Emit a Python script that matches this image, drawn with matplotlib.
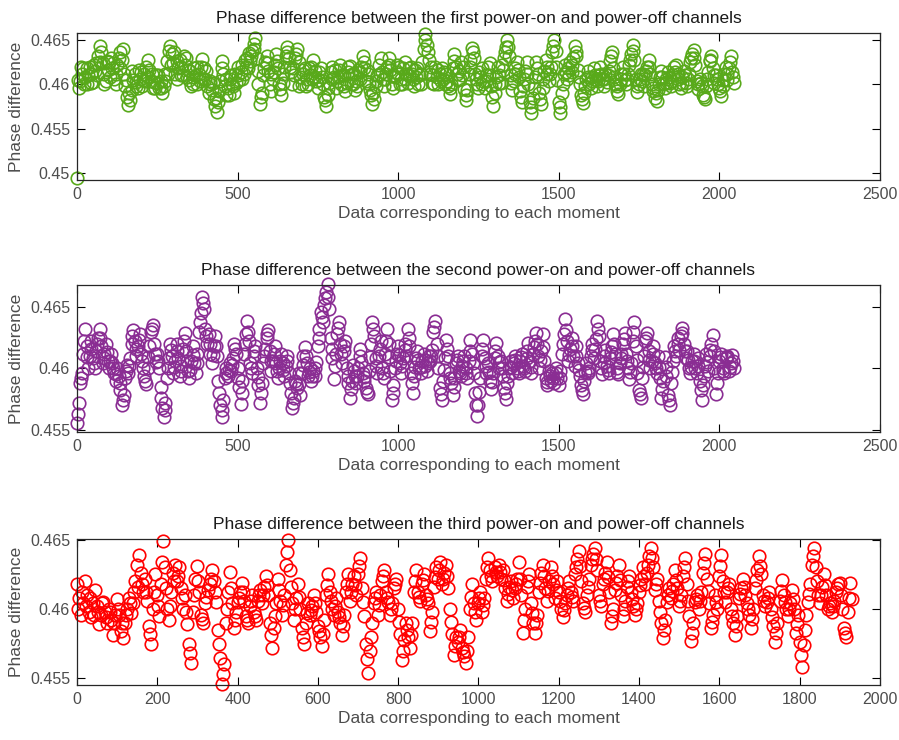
import numpy as np
import matplotlib
matplotlib.use("Agg")
import matplotlib.pyplot as plt

plt.rcParams['font.family'] = ['Liberation Sans', 'DejaVu Sans']

# Values, one every 5 samples (rows of 100 samples)
first_vals = [
    0.4494, 0.4596, 0.4604, 0.4612, 0.4618, 0.4608, 0.4600, 0.4610, 0.4620, 0.4612, 0.4603, 0.4615, 0.4624, 0.4632, 0.4643, 0.4636, 0.4624, 0.4612, 0.4604, 0.4616,
    0.4625, 0.4630, 0.4618, 0.4606, 0.4612, 0.4622, 0.4630, 0.4637, 0.4628, 0.4612, 0.4598, 0.4586, 0.4577, 0.4582, 0.4594, 0.4605, 0.4612, 0.4603, 0.4596, 0.4606,
    0.4614, 0.4605, 0.4612, 0.4620, 0.4627, 0.4616, 0.4604, 0.4596, 0.4603, 0.4610, 0.4602, 0.4596, 0.4604, 0.4590, 0.4598, 0.4612, 0.4626, 0.4638, 0.4643, 0.4634,
    0.4624, 0.4612, 0.4606, 0.4618, 0.4628, 0.4620, 0.4610, 0.4622, 0.4630, 0.4616, 0.4605, 0.4598, 0.4608, 0.4618, 0.4610, 0.4600, 0.4612, 0.4620, 0.4629, 0.4618,
    0.4606, 0.4598, 0.4590, 0.4600, 0.4594, 0.4584, 0.4576, 0.4569, 0.4580, 0.4604, 0.4626, 0.4612, 0.4598, 0.4588, 0.4596, 0.4606, 0.4610, 0.4598, 0.4590, 0.4602,
    0.4610, 0.4605, 0.4614, 0.4622, 0.4612, 0.4620, 0.4630, 0.4635, 0.4626, 0.4638, 0.4646, 0.4652, 0.4630, 0.4600, 0.4578, 0.4590, 0.4610, 0.4625, 0.4632, 0.4615,
    0.4600, 0.4592, 0.4606, 0.4622, 0.4634, 0.4618, 0.4600, 0.4588, 0.4602, 0.4620, 0.4632, 0.4642, 0.4630, 0.4614, 0.4600, 0.4610, 0.4630, 0.4640, 0.4625, 0.4608,
    0.4600, 0.4612, 0.4618, 0.4606, 0.4600, 0.4610, 0.4620, 0.4627, 0.4615, 0.4604, 0.4596, 0.4605, 0.4618, 0.4600, 0.4586, 0.4576, 0.4588, 0.4602, 0.4614, 0.4620,
    0.4608, 0.4596, 0.4604, 0.4616, 0.4622, 0.4610, 0.4598, 0.4592, 0.4602, 0.4614, 0.4621, 0.4612, 0.4600, 0.4594, 0.4604, 0.4616, 0.4606, 0.4620, 0.4632, 0.4618,
    0.4604, 0.4612, 0.4600, 0.4588, 0.4578, 0.4584, 0.4598, 0.4610, 0.4622, 0.4630, 0.4614, 0.4598, 0.4606, 0.4620, 0.4630, 0.4616, 0.4600, 0.4596, 0.4608, 0.4622,
    0.4612, 0.4600, 0.4606, 0.4618, 0.4625, 0.4612, 0.4602, 0.4610, 0.4620, 0.4606, 0.4598, 0.4608, 0.4618, 0.4610, 0.4600, 0.4625, 0.4640, 0.4657, 0.4645, 0.4628,
    0.4612, 0.4602, 0.4610, 0.4620, 0.4608, 0.4600, 0.4612, 0.4618, 0.4606, 0.4600, 0.4612, 0.4598, 0.4589, 0.4600, 0.4618, 0.4634, 0.4620, 0.4605, 0.4615, 0.4625,
    0.4610, 0.4595, 0.4582, 0.4594, 0.4612, 0.4628, 0.4641, 0.4630, 0.4612, 0.4600, 0.4596, 0.4608, 0.4618, 0.4604, 0.4596, 0.4610, 0.4620, 0.4624, 0.4598, 0.4575,
    0.4590, 0.4608, 0.4620, 0.4610, 0.4602, 0.4616, 0.4630, 0.4642, 0.4650, 0.4632, 0.4610, 0.4594, 0.4604, 0.4618, 0.4625, 0.4608, 0.4592, 0.4580, 0.4598, 0.4615,
    0.4625, 0.4600, 0.4580, 0.4568, 0.4585, 0.4608, 0.4625, 0.4612, 0.4590, 0.4578, 0.4596, 0.4615, 0.4628, 0.4612, 0.4604, 0.4620, 0.4636, 0.4650, 0.4638, 0.4605,
    0.4580, 0.4568, 0.4590, 0.4612, 0.4622, 0.4606, 0.4618, 0.4625, 0.4614, 0.4630, 0.4643, 0.4632, 0.4616, 0.4600, 0.4588, 0.4579, 0.4590, 0.4606, 0.4615, 0.4600,
    0.4596, 0.4608, 0.4618, 0.4605, 0.4598, 0.4610, 0.4620, 0.4606, 0.4598, 0.4612, 0.4603, 0.4615, 0.4626, 0.4637, 0.4618, 0.4600, 0.4592, 0.4589, 0.4600, 0.4612,
    0.4620, 0.4605, 0.4600, 0.4612, 0.4622, 0.4634, 0.4645, 0.4628, 0.4606, 0.4591, 0.4600, 0.4612, 0.4604, 0.4598, 0.4610, 0.4620, 0.4628, 0.4612, 0.4600, 0.4592,
    0.4585, 0.4581, 0.4594, 0.4608, 0.4615, 0.4600, 0.4596, 0.4606, 0.4614, 0.4602, 0.4598, 0.4610, 0.4620, 0.4622, 0.4612, 0.4600, 0.4596, 0.4608, 0.4615, 0.4602,
    0.4598, 0.4612, 0.4625, 0.4634, 0.4639, 0.4622, 0.4604, 0.4595, 0.4606, 0.4598, 0.4588, 0.4583, 0.4598, 0.4614, 0.4626, 0.4632, 0.4618, 0.4602, 0.4610, 0.4600,
    0.4596, 0.4587, 0.4598, 0.4612, 0.4620, 0.4605, 0.4618, 0.4632, 0.4614, 0.4602,
]
# second reading of the band, between the samples above (one every 10, offset 2.5)
first_mid = [
    0.4605, 0.4620, 0.4600, 0.4618, 0.4602, 0.4622, 0.4610, 0.4625, 0.4600, 0.4626,
    0.4608, 0.4624, 0.4600, 0.4618, 0.4640, 0.4605, 0.4590, 0.4615, 0.4598, 0.4616,
    0.4598, 0.4604, 0.4608, 0.4612, 0.4596, 0.4610, 0.4596, 0.4604, 0.4612, 0.4622,
    0.4636, 0.4626, 0.4610, 0.4632, 0.4608, 0.4615, 0.4600, 0.4620, 0.4604, 0.4606,
    0.4615, 0.4604, 0.4602, 0.4585, 0.4592, 0.4618, 0.4606, 0.4588, 0.4600, 0.4612,
    0.4620, 0.4606, 0.4628, 0.4618, 0.4632, 0.4640, 0.4615, 0.4586, 0.4618, 0.4624,
    0.4612, 0.4614, 0.4626, 0.4595, 0.4612, 0.4636, 0.4620, 0.4618, 0.4634, 0.4598,
    0.4616, 0.4598, 0.4618, 0.4606, 0.4608, 0.4614, 0.4608, 0.4582, 0.4596, 0.4606,
    0.4616, 0.4608, 0.4600, 0.4610, 0.4620, 0.4600, 0.4612, 0.4598, 0.4614, 0.4625,
    0.4616, 0.4594, 0.4590, 0.4604, 0.4612, 0.4606, 0.4612, 0.4622, 0.4610, 0.4614,
    0.4620, 0.4600, 0.4606, 0.4618, 0.4612, 0.4616, 0.4600, 0.4612, 0.4650, 0.4636,
    0.4620, 0.4600, 0.4616, 0.4604, 0.4614, 0.4604, 0.4596, 0.4626, 0.4612, 0.4606,
    0.4620, 0.4588, 0.4620, 0.4636, 0.4606, 0.4614, 0.4600, 0.4604, 0.4610, 0.4586,
    0.4600, 0.4602, 0.4622, 0.4636, 0.4642, 0.4602, 0.4612, 0.4616, 0.4586, 0.4606,
    0.4612, 0.4574, 0.4596, 0.4618, 0.4584, 0.4606, 0.4620, 0.4612, 0.4643, 0.4620,
    0.4574, 0.4600, 0.4614, 0.4610, 0.4622, 0.4637, 0.4608, 0.4584, 0.4598, 0.4608,
    0.4604, 0.4610, 0.4604, 0.4612, 0.4606, 0.4610, 0.4632, 0.4608, 0.4598, 0.4606,
    0.4612, 0.4606, 0.4628, 0.4638, 0.4598, 0.4606, 0.4612, 0.4615, 0.4620, 0.4596,
    0.4590, 0.4600, 0.4608, 0.4602, 0.4608, 0.4604, 0.4614, 0.4606, 0.4602, 0.4610,
    0.4606, 0.4630, 0.4630, 0.4600, 0.4602, 0.4586, 0.4606, 0.4628, 0.4610, 0.4606,
    0.4592, 0.4605, 0.4612, 0.4625, 0.4608,
]

second_vals = [
    0.4555, 0.4572, 0.4588, 0.4596, 0.4612, 0.4632, 0.4618, 0.4600, 0.4610, 0.4622, 0.4608, 0.4600, 0.4614, 0.4625, 0.4632, 0.4618, 0.4604, 0.4612, 0.4620, 0.4606,
    0.4600, 0.4612, 0.4604, 0.4596, 0.4590, 0.4600, 0.4594, 0.4582, 0.4570, 0.4578, 0.4592, 0.4603, 0.4596, 0.4608, 0.4620, 0.4631, 0.4622, 0.4610, 0.4618, 0.4628,
    0.4612, 0.4600, 0.4594, 0.4587, 0.4600, 0.4618, 0.4630, 0.4635, 0.4620, 0.4605, 0.4612, 0.4600, 0.4585, 0.4568, 0.4560, 0.4572, 0.4592, 0.4608, 0.4620, 0.4610,
    0.4596, 0.4606, 0.4620, 0.4608, 0.4594, 0.4602, 0.4616, 0.4629, 0.4614, 0.4598, 0.4592, 0.4606, 0.4618, 0.4604, 0.4596, 0.4612, 0.4630, 0.4645, 0.4658, 0.4648,
    0.4632, 0.4620, 0.4628, 0.4612, 0.4604, 0.4618, 0.4626, 0.4610, 0.4590, 0.4570, 0.4560, 0.4574, 0.4592, 0.4600, 0.4594, 0.4604, 0.4598, 0.4608, 0.4620, 0.4612,
    0.4600, 0.4585, 0.4571, 0.4590, 0.4612, 0.4628, 0.4639, 0.4622, 0.4604, 0.4596, 0.4610, 0.4618, 0.4600, 0.4586, 0.4572, 0.4588, 0.4604, 0.4616, 0.4625, 0.4631,
    0.4614, 0.4598, 0.4606, 0.4618, 0.4604, 0.4592, 0.4600, 0.4612, 0.4604, 0.4594, 0.4602, 0.4610, 0.4596, 0.4580, 0.4568, 0.4576, 0.4590, 0.4584, 0.4596, 0.4578,
    0.4596, 0.4610, 0.4617, 0.4604, 0.4594, 0.4600, 0.4590, 0.4598, 0.4594, 0.4605, 0.4618, 0.4632, 0.4646, 0.4638, 0.4652, 0.4662, 0.4669, 0.4648, 0.4625, 0.4608,
    0.4591, 0.4612, 0.4628, 0.4638, 0.4620, 0.4604, 0.4614, 0.4622, 0.4600, 0.4588, 0.4576, 0.4590, 0.4603, 0.4594, 0.4588, 0.4600, 0.4616, 0.4605, 0.4596, 0.4590,
    0.4584, 0.4579, 0.4598, 0.4620, 0.4638, 0.4626, 0.4608, 0.4596, 0.4610, 0.4622, 0.4600, 0.4592, 0.4612, 0.4632, 0.4620, 0.4598, 0.4574, 0.4586, 0.4600, 0.4612,
    0.4618, 0.4604, 0.4596, 0.4608, 0.4620, 0.4610, 0.4632, 0.4618, 0.4596, 0.4580, 0.4594, 0.4608, 0.4614, 0.4600, 0.4596, 0.4606, 0.4612, 0.4602, 0.4598, 0.4610,
    0.4606, 0.4615, 0.4630, 0.4639, 0.4620, 0.4600, 0.4584, 0.4574, 0.4590, 0.4608, 0.4623, 0.4610, 0.4596, 0.4588, 0.4578, 0.4592, 0.4604, 0.4610, 0.4598, 0.4594,
    0.4602, 0.4610, 0.4600, 0.4592, 0.4606, 0.4623, 0.4612, 0.4596, 0.4580, 0.4561, 0.4570, 0.4592, 0.4610, 0.4623, 0.4608, 0.4596, 0.4604, 0.4590, 0.4583, 0.4596,
    0.4608, 0.4621, 0.4610, 0.4600, 0.4606, 0.4594, 0.4584, 0.4575, 0.4588, 0.4600, 0.4606, 0.4596, 0.4604, 0.4610, 0.4600, 0.4596, 0.4606, 0.4612, 0.4602, 0.4598,
    0.4608, 0.4621, 0.4606, 0.4596, 0.4612, 0.4622, 0.4629, 0.4610, 0.4600, 0.4614, 0.4628, 0.4606, 0.4592, 0.4586, 0.4598, 0.4590, 0.4596, 0.4588, 0.4600, 0.4592,
    0.4586, 0.4598, 0.4612, 0.4628, 0.4640, 0.4622, 0.4606, 0.4616, 0.4625, 0.4610, 0.4602, 0.4618, 0.4604, 0.4594, 0.4586, 0.4579, 0.4590, 0.4604, 0.4596, 0.4600,
    0.4610, 0.4620, 0.4608, 0.4624, 0.4639, 0.4626, 0.4606, 0.4595, 0.4604, 0.4615, 0.4602, 0.4596, 0.4608, 0.4618, 0.4628, 0.4612, 0.4600, 0.4595, 0.4604, 0.4612,
    0.4620, 0.4629, 0.4612, 0.4600, 0.4591, 0.4604, 0.4622, 0.4638, 0.4618, 0.4596, 0.4582, 0.4576, 0.4592, 0.4610, 0.4622, 0.4629, 0.4614, 0.4600, 0.4606, 0.4618,
    0.4604, 0.4596, 0.4610, 0.4592, 0.4576, 0.4590, 0.4609, 0.4594, 0.4578, 0.4570, 0.4588, 0.4606, 0.4618, 0.4610, 0.4625, 0.4615, 0.4626, 0.4633, 0.4620, 0.4608,
    0.4614, 0.4600, 0.4596, 0.4606, 0.4612, 0.4600, 0.4596, 0.4608, 0.4590, 0.4574, 0.4586, 0.4602, 0.4612, 0.4598, 0.4610, 0.4620, 0.4627, 0.4600, 0.4579, 0.4596,
    0.4606, 0.4612, 0.4600, 0.4596, 0.4608, 0.4610, 0.4598, 0.4604, 0.4611, 0.4600,
]
second_mid = [
    0.4563, 0.4592, 0.4622, 0.4609, 0.4616, 0.4604, 0.4620, 0.4625, 0.4608, 0.4613,
    0.4606, 0.4600, 0.4595, 0.4588, 0.4574, 0.4598, 0.4602, 0.4626, 0.4616, 0.4623,
    0.4606, 0.4590, 0.4609, 0.4632, 0.4612, 0.4606, 0.4576, 0.4566, 0.4600, 0.4615,
    0.4601, 0.4614, 0.4598, 0.4622, 0.4606, 0.4599, 0.4611, 0.4604, 0.4638, 0.4653,
    0.4626, 0.4620, 0.4611, 0.4618, 0.4580, 0.4566, 0.4596, 0.4599, 0.4603, 0.4616,
    0.4592, 0.4580, 0.4620, 0.4630, 0.4600, 0.4614, 0.4593, 0.4580, 0.4610, 0.4628,
    0.4606, 0.4612, 0.4598, 0.4606, 0.4599, 0.4606, 0.4588, 0.4572, 0.4587, 0.4587,
    0.4603, 0.4610, 0.4597, 0.4594, 0.4600, 0.4625, 0.4642, 0.4657, 0.4658, 0.4616,
    0.4602, 0.4633, 0.4612, 0.4618, 0.4594, 0.4583, 0.4598, 0.4594, 0.4610, 0.4593,
    0.4581, 0.4609, 0.4632, 0.4602, 0.4616, 0.4596, 0.4622, 0.4609, 0.4580, 0.4606,
    0.4611, 0.4602, 0.4615, 0.4625, 0.4588, 0.4601, 0.4607, 0.4601, 0.4607, 0.4604,
    0.4610, 0.4634, 0.4610, 0.4579, 0.4599, 0.4616, 0.4592, 0.4585, 0.4607, 0.4596,
    0.4606, 0.4596, 0.4614, 0.4604, 0.4570, 0.4581, 0.4616, 0.4602, 0.4597, 0.4589,
    0.4614, 0.4605, 0.4600, 0.4580, 0.4594, 0.4601, 0.4607, 0.4598, 0.4609, 0.4600,
    0.4614, 0.4601, 0.4617, 0.4620, 0.4607, 0.4617, 0.4589, 0.4594, 0.4592, 0.4596,
    0.4592, 0.4620, 0.4631, 0.4611, 0.4618, 0.4610, 0.4599, 0.4582, 0.4597, 0.4598,
    0.4615, 0.4616, 0.4632, 0.4600, 0.4610, 0.4599, 0.4613, 0.4620, 0.4597, 0.4608,
    0.4624, 0.4606, 0.4597, 0.4630, 0.4607, 0.4579, 0.4601, 0.4625, 0.4607, 0.4612,
    0.4600, 0.4601, 0.4583, 0.4601, 0.4574, 0.4597, 0.4614, 0.4620, 0.4629, 0.4614,
    0.4607, 0.4601, 0.4606, 0.4602, 0.4582, 0.4594, 0.4605, 0.4615, 0.4614, 0.4588,
    0.4609, 0.4598, 0.4609, 0.4601, 0.4606,
]

third_vals = [
    0.4618, 0.4608, 0.4596, 0.4604, 0.4620, 0.4610, 0.4598, 0.4594, 0.4604, 0.4614, 0.4602, 0.4589, 0.4596, 0.4605, 0.4598, 0.4590, 0.4600, 0.4592, 0.4581, 0.4596,
    0.4607, 0.4596, 0.4584, 0.4579, 0.4590, 0.4600, 0.4608, 0.4597, 0.4604, 0.4620, 0.4632, 0.4639, 0.4626, 0.4612, 0.4622, 0.4606, 0.4588, 0.4575, 0.4600, 0.4625,
    0.4610, 0.4595, 0.4618, 0.4649, 0.4630, 0.4600, 0.4592, 0.4612, 0.4626, 0.4632, 0.4620, 0.4630, 0.4615, 0.4600, 0.4610, 0.4589, 0.4575, 0.4561, 0.4598, 0.4622,
    0.4631, 0.4612, 0.4596, 0.4590, 0.4604, 0.4614, 0.4618, 0.4628, 0.4620, 0.4605, 0.4585, 0.4565, 0.4546, 0.4560, 0.4590, 0.4612, 0.4627, 0.4604, 0.4586, 0.4598,
    0.4605, 0.4612, 0.4619, 0.4606, 0.4595, 0.4590, 0.4602, 0.4610, 0.4598, 0.4592, 0.4606, 0.4614, 0.4604, 0.4616, 0.4624, 0.4610, 0.4590, 0.4572, 0.4586, 0.4604,
    0.4622, 0.4606, 0.4596, 0.4610, 0.4632, 0.4650, 0.4628, 0.4604, 0.4592, 0.4608, 0.4618, 0.4600, 0.4586, 0.4575, 0.4590, 0.4604, 0.4596, 0.4602, 0.4610, 0.4598,
    0.4588, 0.4580, 0.4573, 0.4592, 0.4610, 0.4625, 0.4612, 0.4600, 0.4596, 0.4608, 0.4598, 0.4590, 0.4581, 0.4596, 0.4612, 0.4625, 0.4606, 0.4618, 0.4624, 0.4610,
    0.4625, 0.4637, 0.4615, 0.4595, 0.4575, 0.4554, 0.4570, 0.4590, 0.4604, 0.4612, 0.4596, 0.4610, 0.4620, 0.4628, 0.4612, 0.4605, 0.4596, 0.4604, 0.4615, 0.4622,
    0.4600, 0.4582, 0.4563, 0.4578, 0.4590, 0.4580, 0.4572, 0.4590, 0.4612, 0.4628, 0.4612, 0.4606, 0.4618, 0.4625, 0.4610, 0.4604, 0.4584, 0.4598, 0.4616, 0.4630,
    0.4622, 0.4634, 0.4618, 0.4626, 0.4632, 0.4615, 0.4600, 0.4582, 0.4567, 0.4580, 0.4576, 0.4585, 0.4572, 0.4566, 0.4561, 0.4580, 0.4600, 0.4618, 0.4604, 0.4592,
    0.4604, 0.4612, 0.4598, 0.4608, 0.4622, 0.4637, 0.4628, 0.4620, 0.4630, 0.4624, 0.4632, 0.4622, 0.4628, 0.4615, 0.4606, 0.4616, 0.4620, 0.4608, 0.4615, 0.4622,
    0.4634, 0.4610, 0.4583, 0.4600, 0.4616, 0.4625, 0.4604, 0.4590, 0.4583, 0.4596, 0.4612, 0.4626, 0.4632, 0.4615, 0.4606, 0.4620, 0.4630, 0.4618, 0.4608, 0.4620,
    0.4612, 0.4600, 0.4594, 0.4604, 0.4610, 0.4620, 0.4612, 0.4606, 0.4625, 0.4636, 0.4642, 0.4620, 0.4604, 0.4598, 0.4610, 0.4622, 0.4632, 0.4640, 0.4644, 0.4628,
    0.4610, 0.4602, 0.4618, 0.4626, 0.4634, 0.4612, 0.4590, 0.4600, 0.4614, 0.4624, 0.4632, 0.4610, 0.4595, 0.4606, 0.4616, 0.4624, 0.4612, 0.4602, 0.4596, 0.4604,
    0.4612, 0.4622, 0.4630, 0.4618, 0.4626, 0.4638, 0.4644, 0.4630, 0.4614, 0.4622, 0.4606, 0.4590, 0.4579, 0.4592, 0.4605, 0.4615, 0.4608, 0.4618, 0.4628, 0.4615,
    0.4602, 0.4610, 0.4624, 0.4637, 0.4618, 0.4595, 0.4577, 0.4590, 0.4605, 0.4610, 0.4600, 0.4612, 0.4626, 0.4640, 0.4622, 0.4604, 0.4586, 0.4596, 0.4610, 0.4600,
    0.4624, 0.4639, 0.4620, 0.4605, 0.4612, 0.4618, 0.4600, 0.4590, 0.4581, 0.4595, 0.4608, 0.4615, 0.4622, 0.4610, 0.4604, 0.4596, 0.4586, 0.4600, 0.4615, 0.4628,
    0.4638, 0.4625, 0.4610, 0.4602, 0.4605, 0.4612, 0.4600, 0.4588, 0.4576, 0.4590, 0.4606, 0.4621, 0.4610, 0.4600, 0.4595, 0.4604, 0.4614, 0.4600, 0.4583, 0.4596,
    0.4576, 0.4558, 0.4574, 0.4596, 0.4605, 0.4618, 0.4632, 0.4644, 0.4630, 0.4610, 0.4604, 0.4616, 0.4625, 0.4610, 0.4600, 0.4604, 0.4598, 0.4606, 0.4612, 0.4618,
    0.4619, 0.4600, 0.4586, 0.4580, 0.4598, 0.4619, 0.4607,
]
third_mid = [
    0.4600, 0.4612, 0.4602, 0.4608, 0.4596, 0.4598, 0.4604, 0.4594, 0.4598, 0.4590,
    0.4600, 0.4590, 0.4596, 0.4604, 0.4612, 0.4616, 0.4618, 0.4612, 0.4582, 0.4612,
    0.4602, 0.4634, 0.4615, 0.4602, 0.4620, 0.4624, 0.4608, 0.4598, 0.4568, 0.4610,
    0.4620, 0.4593, 0.4609, 0.4622, 0.4612, 0.4575, 0.4553, 0.4600, 0.4615, 0.4592,
    0.4608, 0.4612, 0.4592, 0.4606, 0.4595, 0.4610, 0.4610, 0.4617, 0.4581, 0.4595,
    0.4614, 0.4603, 0.4641, 0.4616, 0.4600, 0.4609, 0.4580, 0.4597, 0.4599, 0.4604,
    0.4584, 0.4582, 0.4617, 0.4606, 0.4602, 0.4594, 0.4588, 0.4618, 0.4612, 0.4617,
    0.4631, 0.4605, 0.4564, 0.4580, 0.4608, 0.4603, 0.4624, 0.4608, 0.4600, 0.4618,
    0.4591, 0.4570, 0.4585, 0.4581, 0.4620, 0.4609, 0.4621, 0.4607, 0.4591, 0.4623,
    0.4628, 0.4622, 0.4624, 0.4591, 0.4573, 0.4580, 0.4569, 0.4570, 0.4609, 0.4598,
    0.4608, 0.4603, 0.4630, 0.4624, 0.4627, 0.4627, 0.4621, 0.4611, 0.4614, 0.4618,
    0.4622, 0.4592, 0.4620, 0.4597, 0.4590, 0.4619, 0.4624, 0.4613, 0.4624, 0.4614,
    0.4606, 0.4599, 0.4615, 0.4609, 0.4630, 0.4631, 0.4601, 0.4616, 0.4636, 0.4636,
    0.4606, 0.4622, 0.4623, 0.4595, 0.4619, 0.4621, 0.4600, 0.4620, 0.4607, 0.4600,
    0.4617, 0.4624, 0.4632, 0.4637, 0.4618, 0.4598, 0.4585, 0.4610, 0.4613, 0.4621,
    0.4606, 0.4630, 0.4606, 0.4583, 0.4607, 0.4606, 0.4633, 0.4613, 0.4591, 0.4605,
    0.4631, 0.4612, 0.4615, 0.4595, 0.4588, 0.4611, 0.4616, 0.4600, 0.4593, 0.4621,
    0.4631, 0.4606, 0.4608, 0.4594, 0.4583, 0.4613, 0.4605, 0.4600, 0.4607, 0.4589,
    0.4567, 0.4585, 0.4611, 0.4638, 0.4620, 0.4610, 0.4617, 0.4602, 0.4602, 0.4615,
    0.4610, 0.4583, 0.4608,
]

step = 5
titles = [
    "Phase difference between the first power-on and power-off channels",
    "Phase difference between the second power-on and power-off channels",
    "Phase difference between the third power-on and power-off channels",
]
colors = ['#58A91A', '#8A2D93', '#FF0000']
series = [(first_vals, first_mid), (second_vals, second_mid), (third_vals, third_mid)]
ylims = [(0.4492, 0.4658), (0.4548, 0.4668), (0.45452, 0.46505)]
yticks = [[0.45, 0.455, 0.46, 0.465], [0.455, 0.46, 0.465], [0.455, 0.46, 0.465]]
xlims = [(0, 2500), (0, 2500), (0, 2000)]
xticks = [np.arange(0, 2501, 500), np.arange(0, 2501, 500), np.arange(0, 2001, 200)]

# axes boxes in figure fractions (left, bottom, width, height)
boxes = [
    (0.0857, 0.7568, 0.893, 0.1986),
    (0.0857, 0.4162, 0.893, 0.1987),
    (0.0857, 0.0743, 0.893, 0.1973),
]

fig = plt.figure(figsize=(8.99, 7.40), dpi=100)

for (vals, mids), col, title, yl, yt, xl, xt, box in zip(series, colors, titles, ylims,
                                                          yticks, xlims, xticks, boxes):
    ax = fig.add_axes(box)
    x = np.arange(len(vals)) * step
    xm = np.arange(len(mids)) * 2 * step + step / 2
    ax.plot(x, vals, 'o', mfc='none', mec=col, ms=9, mew=1.2, clip_on=False)
    ax.plot(xm, mids, 'o', mfc='none', mec=col, ms=9, mew=1.2, clip_on=False)
    ax.set_xlim(*xl)
    ax.set_ylim(*yl)
    ax.set_xticks(xt)
    ax.set_yticks(yt)
    ax.set_yticklabels([f"{t:g}" for t in yt])
    ax.tick_params(direction='in', top=True, right=True, length=6, width=0.8,
                   labelsize=11.5, labelcolor='#4d4d4d', pad=5)
    for sp in ax.spines.values():
        sp.set_linewidth(0.9)
        sp.set_color('#262626')
    ax.set_title(title, fontsize=12.5, color='#1a1a1a', pad=7)
    ax.set_xlabel("Data corresponding to each moment", fontsize=12.5,
                  color='#4d4d4d', labelpad=3)
    ax.set_ylabel("Phase difference", fontsize=12.5, color='#4d4d4d', labelpad=4)

fig.savefig("out.png", dpi=100)
